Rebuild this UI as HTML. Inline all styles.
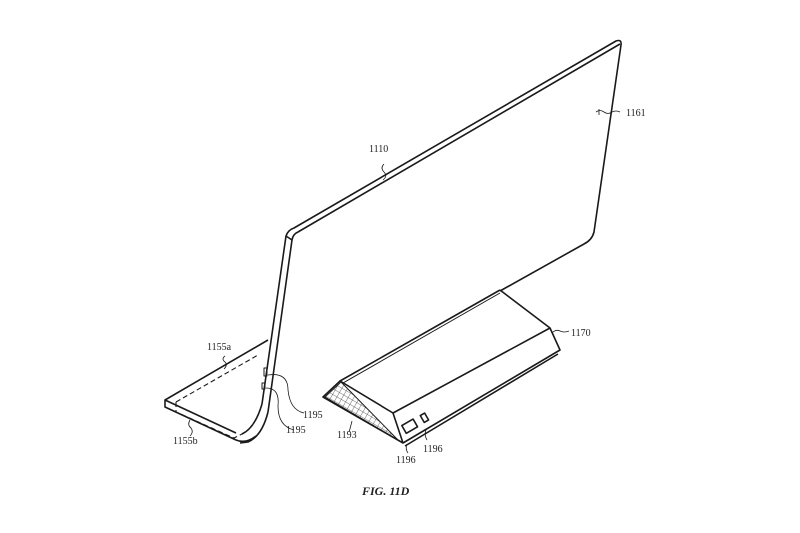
<!DOCTYPE html>
<html><head><style>body{margin:0;background:#fff}svg{display:block}text{font-family:"Liberation Serif",serif;font-size:10px;fill:#222}</style></head>
<body>
<svg width="800" height="533" viewBox="0 0 800 533" xmlns="http://www.w3.org/2000/svg">
<defs><pattern id="g" width="5" height="5" patternUnits="userSpaceOnUse" patternTransform="rotate(30)"><path d="M0 0H5M0 0V5" stroke="#444" stroke-width="0.8" fill="none"/></pattern></defs>
<g fill="none" stroke="#1a1a1a" stroke-width="1.6" stroke-linejoin="round">
<!-- base -->
<path d="M268 340 L165 400 L165 407 L236 440 Q246 444 256 436"/>
<path d="M165 400 L236 433"/>
<path d="M176 402 L258 355 M176 402 L176 412 L234 438 L246 432" stroke-dasharray="5,3" stroke-width="1.1"/>
<!-- panel -->
<path d="M262 404 Q255 428 242 434"/>
<path d="M268 412 Q262 436 248 442 L240 443"/>
<path d="M262 404 L286 236 Q288 230 294 228 L616 41 Q622 39 621 45 L594 232 Q592 240 584 244 L500 291"/>
<path d="M268 412 L292 240 Q293 234 298 232 L620 44"/>
<path d="M286 236 L292 240"/>
<rect x="264" y="368" width="3" height="8" stroke-width="1"/>
<rect x="262" y="383" width="3" height="6" stroke-width="1"/>
<!-- stand -->
<path d="M325 397 L341 382 L398 440 Z" fill="url(#g)" stroke-width="1"/>
<path d="M500 290 L550 328 L560 350 L403 443 L323 397 L340 381 L500 290"/>
<path d="M343 383 L500 293" stroke-width="1"/>
<path d="M550 328 L393 413 L403 443"/>
<path d="M558 354 L405 446"/>
<path d="M340 381 L393 413"/>
<rect x="403" y="422" width="13" height="9" transform="rotate(-30 409 426)"/>
<rect x="422" y="414" width="5" height="8" transform="rotate(-30 424 418)"/>
<!-- leaders -->
<path d="M384 164 q-4 4 0 8 q4 4 -1 8" stroke-width="0.8"/>
<path d="M596 112 q4 -3 8 0 q4 3 8 0 q4 -2 8 0 M599 109 v6" stroke-width="0.8"/>
<path d="M552 333 q4 -4 8 -2 q4 2 9 0" stroke-width="0.8"/>
<path d="M225 356 q-4 3 0 6 q3 3 -1 7" stroke-width="0.8"/>
<path d="M190 420 q-3 5 1 8 q3 4 -1 8" stroke-width="0.8"/>
<path d="M268 375 q20 -3 20 15 q2 20 16 23" stroke-width="0.8"/>
<path d="M266 388 q14 0 12 18 q0 20 16 24" stroke-width="0.8"/>
<path d="M352 421 q-2 8 -3 11" stroke-width="0.8"/>
<path d="M407 444 q-2 5 1 9" stroke-width="0.8"/>
<path d="M426 430 q-2 5 1 10" stroke-width="0.8"/>
</g>
<text x="369" y="152">1110</text>
<text x="626" y="116">1161</text>
<text x="571" y="336">1170</text>
<text x="207" y="350">1155a</text>
<text x="173" y="444">1155b</text>
<text x="303" y="418">1195</text>
<text x="286" y="433">1195</text>
<text x="337" y="438">1193</text>
<text x="423" y="452">1196</text>
<text x="396" y="463">1196</text>
<text x="362" y="495" style="font-weight:bold;font-style:italic;font-size:12px">FIG. 11D</text>
</svg>
</body></html>
